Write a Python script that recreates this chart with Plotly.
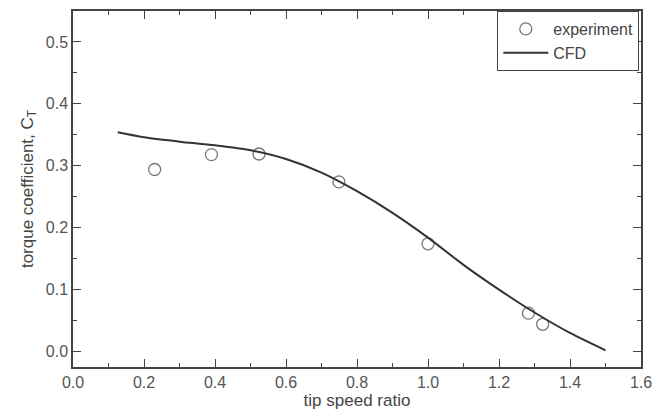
import plotly.graph_objects as go

# experiment data
exp_tsr = [0.23, 0.39, 0.524, 0.749, 1.0, 1.283, 1.323]
exp_ct = [0.294, 0.318, 0.319, 0.274, 0.174, 0.062, 0.044]

# CFD curve
cfd_tsr = [0.126, 0.2, 0.3, 0.4, 0.5, 0.6, 0.7, 0.8, 0.9, 1.0, 1.1, 1.2, 1.3, 1.4, 1.5]
cfd_ct = [0.354, 0.346, 0.339, 0.333, 0.325, 0.311, 0.289, 0.259, 0.224, 0.184, 0.140, 0.100, 0.063, 0.030, 0.002]

x_ticks = [0.0, 0.2, 0.4, 0.6, 0.8, 1.0, 1.2, 1.4, 1.6]
y_ticks = [0.0, 0.1, 0.2, 0.3, 0.4, 0.5]

FONT = "Liberation Sans, Arial, sans-serif"

fig = go.Figure()
fig.add_trace(go.Scatter(
    x=exp_tsr, y=exp_ct, mode="markers", name="experiment",
    marker=dict(symbol="circle-open", size=12, color="#777777", line=dict(width=1.3, color="#777777")),
))
fig.add_trace(go.Scatter(
    x=cfd_tsr, y=cfd_ct, mode="lines", name="CFD",
    line=dict(color="#333333", width=2, shape="spline", smoothing=0.8),
))

axis_common = dict(
    showgrid=False, zeroline=False, showline=True, linecolor="#444444", linewidth=1.5,
    mirror="ticks", ticks="inside", ticklen=8, tickwidth=1.2, tickcolor="#444444",
    tickfont=dict(family=FONT, size=16, color="#555555"),
)

fig.update_xaxes(
    range=[0, 1.6], tickvals=x_ticks, ticktext=[f"{v:.1f}" for v in x_ticks],
    minor=dict(ticks="inside", ticklen=4, dtick=0.1, tickcolor="#444444"),
    title=dict(text="tip speed ratio", font=dict(family=FONT, size=17, color="#444444"), standoff=4),
    **axis_common,
)
fig.update_yaxes(
    range=[-0.025, 0.55], tickvals=y_ticks, ticktext=[f"{v:.1f}" for v in y_ticks],
    minor=dict(ticks="inside", ticklen=4, dtick=0.05, tickcolor="#444444"),
    title=dict(text="torque coefficient, C<sub>T</sub>", font=dict(family=FONT, size=17, color="#444444"), standoff=8),
    **axis_common,
)

fig.update_layout(
    width=661, height=417,
    margin=dict(l=73, r=14, t=9, b=50),
    paper_bgcolor="white", plot_bgcolor="white",
    legend=dict(
        x=0.997, y=1.0, xanchor="right", yanchor="top",
        bordercolor="#444444", borderwidth=1, bgcolor="white",
        font=dict(family=FONT, size=16, color="#444444"),
        itemwidth=45, tracegroupgap=0,
    ),
)

fig.write_html("out.html")
